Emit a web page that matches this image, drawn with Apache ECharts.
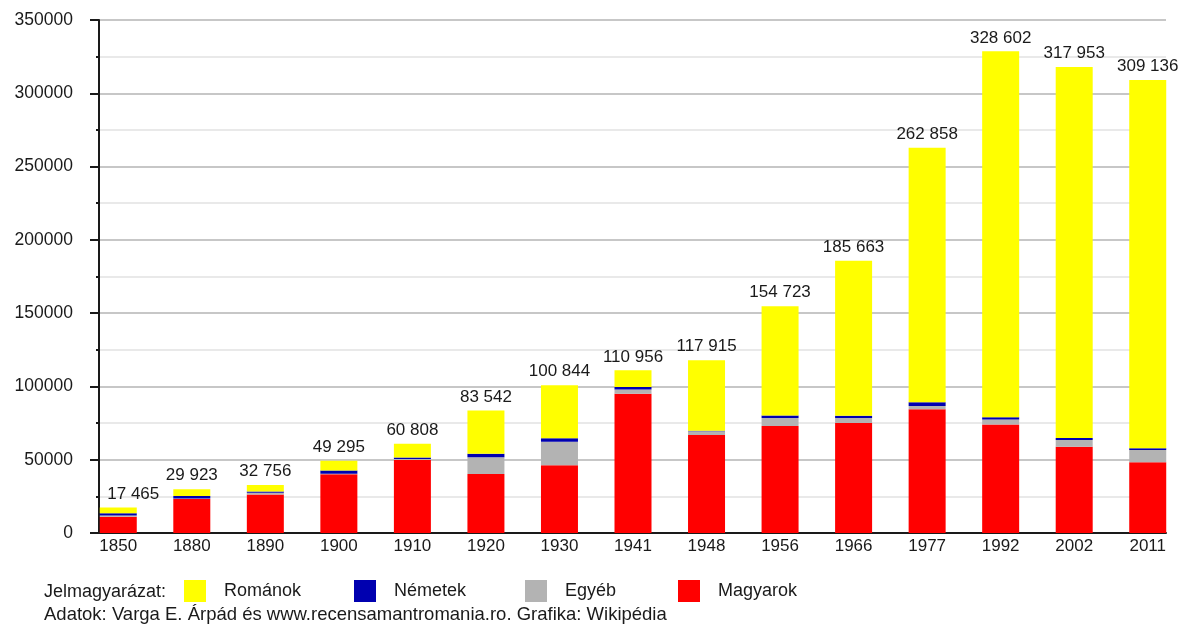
<!DOCTYPE html>
<html>
<head>
<meta charset="utf-8">
<script src="https://cdn.jsdelivr.net/npm/echarts@6/dist/echarts.min.js"></script>
<style>
html,body{margin:0;padding:0;background:#fff;}
#chart{width:1186px;height:628px;}
</style>
</head>
<body>
<div id="chart"></div>
<script>
// ---- data ----
const years = ['1850','1880','1890','1900','1910','1920','1930','1941','1948','1956','1966','1977','1992','2002','2011'];
const totals = [17465, 29923, 32756, 49295, 60808, 83542, 100844, 110956, 117915, 154723, 185663, 262858, 328602, 317953, 309136];
const magyarok = [11100, 23200, 26300, 40000, 49800, 40200, 46200, 95000, 66800, 73000, 75000, 84400, 74100, 58900, 48200];
const egyeb    = [900, 300, 1100, 400, 700, 11400, 16100, 2950, 2700, 5500, 3400, 2300, 3400, 4600, 8400];
const nemetek  = [1400, 1800, 900, 2300, 1000, 2500, 2300, 1600, 200, 1600, 1600, 2500, 1400, 1400, 1200];
const romanok  = [4065, 4623, 4456, 6595, 9308, 29442, 36244, 11406, 48215, 74623, 105663, 173658, 249702, 253053, 251336];
const yTicks = [0, 50000, 100000, 150000, 200000, 250000, 300000, 350000];
const seriesNames = ['Magyarok', 'Egyéb', 'Németek', 'Románok'];
const legendOrder = ['Románok', 'Németek', 'Egyéb', 'Magyarok'];
const legendTitle = 'Jelmagyarázat:';
const sourceText = 'Adatok: Varga E. Árpád és www.recensamantromania.ro. Grafika: Wikipédia';

// ---- chart ----
const FONT = '"Liberation Sans", Arial, sans-serif';
const colors = {'Magyarok':'#ff0000','Egyéb':'#b3b3b3','Németek':'#0000b0','Románok':'#ffff00'};
const fmt = n => String(n).replace(/\B(?=(\d{3})+(?!\d))/g, ' ');

const chart = echarts.init(document.getElementById('chart'), null, {renderer:'canvas'});

const yMin = yTicks[0], yMax = yTicks[yTicks.length-1], yStep = yTicks[1]-yTicks[0];

function bar(name, values, withLabel){
  const s = {
    name: name, type: 'bar', stack: 'all', xAxisIndex: 1, yAxisIndex: 1,
    barWidth: 37,
    itemStyle: {color: colors[name]},
    data: values.map((v, i) => {
      const d = {value: v};
      if (withLabel && i === 0) d.label = {offset: [15, 0]};
      return d;
    })
  };
  if (withLabel){
    s.label = {
      show: true, position: 'top', distance: 5,
      color: '#1a1a1a', fontSize: 17, fontFamily: FONT,
      formatter: p => fmt(totals[p.dataIndex])
    };
  }
  return s;
}

const legendLefts = [184, 354, 525, 678];
const legends = legendOrder.map((n, i) => ({
  data: [n], left: legendLefts[i], top: 580, padding: 0,
  itemWidth: 22, itemHeight: 22, icon: 'rect', selectedMode: false,
  textStyle: {fontSize: 18, fontFamily: FONT, color: '#1a1a1a', padding: [0,0,0,13]}
}));

const option = {
  animation: false,
  textStyle: {fontFamily: FONT},
  grid: [
    {left: 99, right: 20, top: 20, bottom: 95},
    {left: 81.5, right: 1.5, top: 20, bottom: 95}
  ],
  xAxis: [
    {gridIndex: 0, type: 'value', min: 0, max: 1,
     axisLine: {show: true, lineStyle: {color: '#1a1a1a', width: 2}},
     axisTick: {show: false}, axisLabel: {show: false}, splitLine: {show: false}},
    {gridIndex: 1, type: 'category', data: years,
     axisLine: {show: false}, axisTick: {show: false},
     axisLabel: {color: '#1a1a1a', fontSize: 17, fontFamily: FONT, margin: 5}}
  ],
  yAxis: [
    {gridIndex: 0, type: 'value', min: yMin, max: yMax, interval: yStep,
     axisLine: {show: true, lineStyle: {color: '#1a1a1a', width: 2}},
     axisTick: {show: true, length: 9, lineStyle: {color: '#1a1a1a', width: 2}},
     minorTick: {show: true, splitNumber: 2, length: 3, lineStyle: {color: '#1a1a1a', width: 2}},
     axisLabel: {color: '#1a1a1a', fontSize: 17.5, fontFamily: FONT, margin: 26, formatter: v => String(v)},
     splitLine: {show: true, lineStyle: {color: '#b4b4b4', width: 1.5}},
     minorSplitLine: {show: true, lineStyle: {color: '#e2e2e2', width: 1.5}}},
    {gridIndex: 1, type: 'value', min: yMin, max: yMax, interval: yStep, show: false,
     splitLine: {show: false}}
  ],
  legend: legends,
  graphic: [
    {type: 'text', style: {x: 44, y: 592.5, text: legendTitle, font: '18px ' + FONT, fill: '#1a1a1a', textVerticalAlign: 'middle', verticalAlign: 'middle'}},
    {type: 'text', style: {x: 44, y: 614.5, text: sourceText, font: '18.5px ' + FONT, fill: '#1a1a1a', textVerticalAlign: 'middle', verticalAlign: 'middle'}}
  ],
  series: [
    bar(seriesNames[0], magyarok, false),
    bar(seriesNames[1], egyeb, false),
    bar(seriesNames[2], nemetek, false),
    bar(seriesNames[3], romanok, true)
  ]
};
chart.setOption(option);
</script>
</body>
</html>
